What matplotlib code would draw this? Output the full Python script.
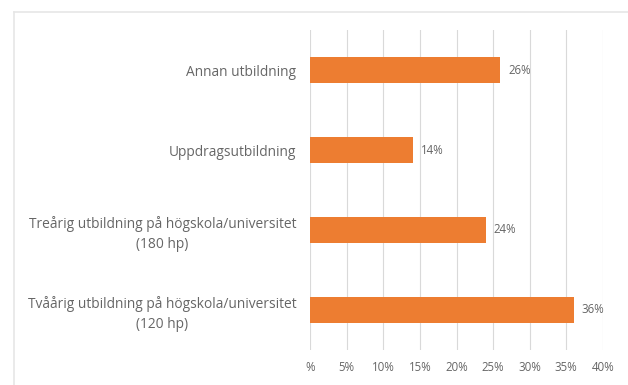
import matplotlib
matplotlib.use("Agg")
import matplotlib.pyplot as plt
from matplotlib.lines import Line2D

# Andel per utbildningstyp (uppifrån och ned)
categories = [
    "Annan utbildning",
    "Uppdragsutbildning",
    "Treårig utbildning på högskola/universitet\n(180 hp)",
    "Tvåårig utbildning på högskola/universitet\n(120 hp)",
]
values = [26, 14, 24, 36]
ticks = [0, 5, 10, 15, 20, 25, 30, 35, 40]
tick_labels = ["%", "5%", "10%", "15%", "20%", "25%", "30%", "35%", "40%"]

BAR_COLOR = "#ED7D31"
TEXT_COLOR = "#666666"
GRID_COLOR = "#D9D9D9"

plt.rcParams["font.family"] = ["Open Sans", "DejaVu Sans"]

fig = plt.figure(figsize=(6.28, 3.85), dpi=100)
ax = fig.add_axes([0.494, 0.091, 0.466, 0.831])

ypos = list(range(len(categories)))
ax.barh(ypos, values, height=0.33, color=BAR_COLOR, zorder=3)
ax.set_ylim(3.5, -0.5)
ax.set_xlim(0, 40)

for y, v in zip(ypos, values):
    ax.text(v + 1.1, y, f"{v}%", va="center", ha="left",
            fontsize=8.3, color=TEXT_COLOR)

ax.set_yticks(ypos)
ax.set_yticklabels(categories, fontsize=9.9, color=TEXT_COLOR,
                   ha="right", multialignment="center", linespacing=1.4)
ax.tick_params(axis="y", length=0, pad=10)
ax.set_xticks(ticks)
ax.set_xticklabels(tick_labels, fontsize=8.3, color=TEXT_COLOR)
ax.tick_params(axis="x", length=0, pad=8)

ax.grid(True, axis="x", color=GRID_COLOR, linewidth=0.8, zorder=0)
for side in ax.spines.values():
    side.set_visible(False)

# Ram runt diagrammet (vänster och överkant)
fig.add_artist(Line2D([14 / 628, 14 / 628], [0, 1 - 12 / 385],
                      transform=fig.transFigure, color="#E6E6E6", lw=1.2))
fig.add_artist(Line2D([14 / 628, 1], [1 - 12 / 385, 1 - 12 / 385],
                      transform=fig.transFigure, color="#E6E6E6", lw=1.2))

fig.savefig("out.png", dpi=100)
